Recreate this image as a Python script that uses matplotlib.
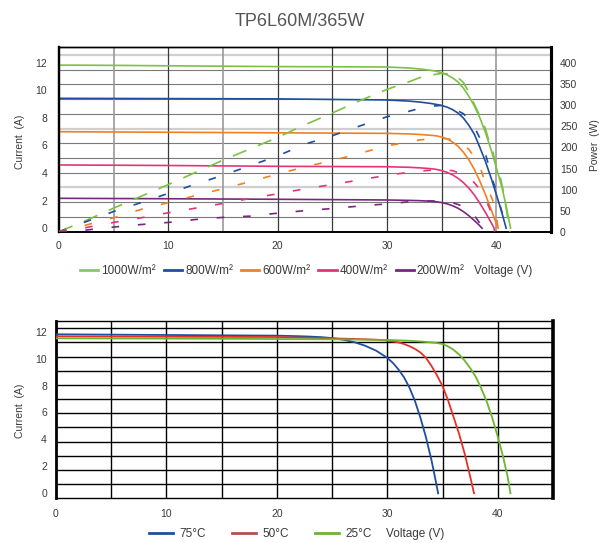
import numpy as np
import matplotlib
matplotlib.use("Agg")
import matplotlib.pyplot as plt
from matplotlib.lines import Line2D

plt.rcParams['font.family'] = ['Liberation Sans', 'DejaVu Sans']
plt.rcParams['lines.scale_dashes'] = False

# ---------------- data: irradiance I-V curves (top) ----------------
irr_labels = ["1000W/m²", "800W/m²", "600W/m²", "400W/m²", "200W/m²"]
irr_colors = ["#7cc242", "#1f4e9e", "#f08024", "#e5337a", "#76287c"]
leg_colors = ["#8cc861", "#1f4e9e", "#f08024", "#e5337a", "#76287c"]

v_1000 = [0, 5, 10, 15, 20, 25, 30, 32, 33, 34, 34.5, 35, 35.5, 36, 36.5, 37, 37.5, 38, 38.5, 39, 39.5, 40, 40.5, 40.9, 41.3]
i_1000 = [11.83, 11.81, 11.78, 11.75, 11.72, 11.71, 11.69, 11.62, 11.55, 11.45, 11.38, 11.28, 11.12, 10.9, 10.6, 10.15, 9.55, 8.85, 8.0, 6.95, 5.75, 4.4, 3.0, 1.6, 0]
v_800 = [0, 10, 20, 30, 32, 33, 34, 34.5, 35, 35.5, 36, 36.5, 37, 37.5, 38, 38.5, 39, 39.5, 40, 40.5, 40.9]
i_800 = [9.42, 9.40, 9.38, 9.30, 9.22, 9.15, 9.05, 8.98, 8.9, 8.78, 8.6, 8.35, 7.98, 7.45, 6.8, 5.85, 4.85, 3.7, 2.45, 1.15, 0]
v_600 = [0, 10, 20, 30, 32, 33, 34, 34.5, 35, 35.5, 36, 36.5, 37, 37.5, 38, 38.5, 39, 39.5, 40, 40.15]
i_600 = [7.0, 6.96, 6.92, 6.88, 6.84, 6.8, 6.74, 6.7, 6.62, 6.48, 6.25, 5.95, 5.5, 4.95, 4.25, 3.4, 2.45, 1.4, 0.35, 0]
v_400 = [0, 10, 20, 30, 32, 33, 34, 34.5, 35, 35.5, 36, 36.5, 37, 37.5, 38, 38.5, 39, 39.5, 39.8]
i_400 = [4.59, 4.55, 4.49, 4.46, 4.42, 4.38, 4.32, 4.27, 4.18, 4.05, 3.87, 3.62, 3.3, 2.9, 2.4, 1.8, 1.15, 0.45, 0]
v_200 = [0, 10, 20, 30, 32, 33, 34, 34.5, 35, 35.5, 36, 36.5, 37, 37.5, 38, 38.4, 38.7]
i_200 = [2.17, 2.14, 2.10, 2.05, 2.02, 2.0, 1.96, 1.92, 1.86, 1.77, 1.63, 1.45, 1.2, 0.9, 0.55, 0.25, 0]

# power curves (dashed, right axis)
pv_1000 = [0, 2.5, 5, 7.5, 10, 12.5, 15, 17.5, 20, 22.5, 25, 27.5, 30, 32, 33, 34, 35, 36, 36.5, 37, 37.5, 38, 38.5, 39, 39.3, 39.6, 40, 40.35, 40.65, 40.8, 41.1, 41.25]
p_1000 = [0, 27, 56, 84, 112, 141, 170, 197, 224, 254, 282, 311, 338, 356, 366, 372, 376, 374, 366, 354, 331, 302, 274, 245, 218, 198, 155, 131, 95, 71, 24, 0]
pv_800 = [0, 2.5, 5, 7.5, 10, 12.5, 15, 17.5, 20, 22.5, 25, 27.5, 30, 32, 33, 34, 35, 36, 37, 37.5, 38, 38.5, 39, 39.3, 39.5, 39.7, 40, 40.2, 40.5, 40.9]
p_800 = [0, 24, 48, 69, 91, 113, 134, 157, 180, 208, 228, 251, 273, 286, 293, 298, 300, 294, 280, 266, 248, 222, 185, 158, 139, 119, 97, 75, 48, 0]
pv_600 = [0, 2.5, 5, 7.5, 10, 12.5, 15, 17.5, 20, 22.5, 25, 27.5, 30, 32, 33, 34, 35, 36, 37, 37.5, 38, 38.5, 39.1, 39.5, 39.9, 40.2]
p_600 = [0, 16, 33, 53, 69, 86, 102, 119, 137, 154, 169, 186, 204, 213, 218, 221, 222, 219, 207, 195, 177, 155, 107, 85, 59, 0]
pv_400 = [0, 2.5, 5, 7.5, 10, 12.5, 15, 17.5, 20, 22.5, 25, 27.5, 30, 32, 33, 34, 35, 36, 37, 37.5, 38, 38.5, 39, 39.5, 39.85]
p_400 = [0, 10, 22, 33, 45, 56, 67, 79, 90, 102, 112, 123, 134, 141, 144, 146, 147, 145, 136, 128, 116, 100, 78, 48, 0]
pv_200 = [0, 2.5, 5, 7.5, 10, 12.5, 15, 17.5, 20, 22.5, 25, 27.5, 30, 32, 33, 34, 35, 36, 37, 37.5, 38, 38.5, 38.75]
p_200 = [0, 4, 11, 17, 22, 29, 34, 37, 44, 50, 55, 61, 66, 71, 72, 73, 73, 69, 60, 51, 38, 20, 0]

# ---------------- data: temperature I-V curves (bottom) ----------------
temp_labels = ["75°C", "50°C", "25°C"]
temp_colors = ["#1f4e9e", "#e8302a", "#6cb52f"]
temp_leg_colors = ["#1f4e9e", "#b5514d", "#6cb52f"]
v_75 = [0, 10, 20, 22, 23, 24, 25, 26, 27, 28, 29, 30, 30.5, 31, 31.5, 32, 32.5, 33, 33.5, 34, 34.3, 34.6]
i_75 = [11.8, 11.75, 11.7, 11.66, 11.63, 11.59, 11.52, 11.4, 11.22, 10.95, 10.58, 10.05, 9.68, 9.2, 8.62, 7.85, 6.85, 5.6, 4.15, 2.45, 1.25, 0]
v_50 = [0, 10, 20, 25, 28, 29, 30, 31, 31.5, 32, 32.5, 33, 33.5, 34, 34.5, 35, 35.5, 36, 36.5, 37, 37.4, 37.85]
i_50 = [11.65, 11.62, 11.6, 11.5, 11.43, 11.4, 11.34, 11.2, 11.08, 10.92, 10.72, 10.45, 10.05, 9.45, 8.75, 7.95, 6.9, 5.65, 4.4, 2.95, 1.6, 0]
v_25 = [0, 10, 20, 25, 30, 32, 33, 34, 34.5, 35, 35.5, 36, 36.5, 37, 37.5, 38, 38.5, 39, 39.5, 40, 40.5, 40.9, 41.15]
i_25 = [11.5, 11.48, 11.45, 11.43, 11.38, 11.32, 11.27, 11.2, 11.15, 11.08, 10.9, 10.65, 10.3, 9.85, 9.3, 8.65, 7.8, 6.8, 5.6, 4.2, 2.65, 1.2, 0]

x_ticks = [0, 10, 20, 30, 40]
i_ticks = [0, 2, 4, 6, 8, 10, 12]
p_ticks = [0, 50, 100, 150, 200, 250, 300, 350, 400]

TXT = "#3a3a3a"
W, H = 612, 543
fig = plt.figure(figsize=(W / 100, H / 100), dpi=100)


def box(l, t, r, b):
    return [l / W, 1 - b / H, (r - l) / W, (b - t) / H]


# ================= top chart =================
ax = fig.add_axes(box(59, 47.3, 551, 231.7))
ax.set_xlim(0, 45)
i_lo, i_hi = -0.25, 13.12
ax.set_ylim(i_lo, i_hi)
ax2 = ax.twinx()
ax2.set_ylim(0, 438)

# grid
gstep = (i_hi - i_lo) * 35 / 438
for k in range(1, 13):
    light = k in (3, 7, 12)
    ax.axhline(i_lo + k * gstep, color="#cfcfcf" if light else "#7a7a7a",
               lw=1.6 if light else 0.8, zorder=0.5)
for xv in range(5, 45, 5):
    light = xv in (5, 15, 40)
    ax.axvline(xv, color="#9a9a9a" if light else "#3a3a3a",
               lw=1.2 if light else 0.9, zorder=0.6)

iv = [(v_1000, i_1000), (v_800, i_800), (v_600, i_600), (v_400, i_400), (v_200, i_200)]
pw = [(pv_1000, p_1000), (pv_800, p_800), (pv_600, p_600), (pv_400, p_400), (pv_200, p_200)]
for (v, i), c in zip(iv, irr_colors):
    ax.plot(v, i, color=c, lw=1.2, zorder=3, solid_joinstyle="round")
for n, ((v, p), c) in enumerate(zip(pw, irr_colors)):
    dash = (10.5, 9) if n == 0 else (5.5, 13.5)
    ln, = ax2.plot(v, p, color=c, lw=1.2, zorder=3)
    ln.set_dashes(dash)

ax.set_xticks(x_ticks)
ax.set_yticks(i_ticks)
ax2.set_yticks(p_ticks)
ax.tick_params(axis="both", length=0, labelsize=7.5, labelcolor=TXT)
ax.tick_params(axis="x", pad=6.5)
ax.tick_params(axis="y", pad=8.5)
ax2.tick_params(axis="y", length=0, labelsize=7.5, labelcolor=TXT, pad=6.5)
for a in (ax, ax2):
    a.spines["left"].set_linewidth(1.6)
    a.spines["right"].set_linewidth(2.2)
    a.spines["top"].set_linewidth(1.0)
    a.spines["bottom"].set_linewidth(1.2)

fig.text(300 / W, 1 - 21 / H, "TP6L60M/365W", ha="center", va="center",
         fontsize=13, color="#555555")
fig.text(20 / W, 1 - 142 / H, "Current  (A)", rotation=90, ha="center", va="center",
         fontsize=7.5, color=TXT)
fig.text(595 / W, 1 - 145 / H, "Power  (W)", rotation=90, ha="center", va="center",
         fontsize=7.5, color=TXT)

handles = [Line2D([], [], color=c, lw=2) for c in leg_colors]
fig.legend(handles, irr_labels, loc="center left", bbox_to_anchor=(80 / W, 1 - 271 / H),
           ncol=5, frameon=False, fontsize=8.5, handlelength=1.55, handletextpad=0.25,
           columnspacing=0.68, borderpad=0, borderaxespad=0, labelcolor=TXT)
fig.text(474 / W, 1 - 271 / H, "Voltage (V)", ha="left", va="center", fontsize=8.5, color=TXT)

# ================= bottom chart =================
bx = fig.add_axes(box(56, 320.7, 553, 498.3))
bx.set_xlim(0, 45)
b_lo, b_hi = -0.37, 12.81
bx.set_ylim(b_lo, b_hi)
bstep = (12.25 - b_lo) / 12
for k in range(1, 13):
    bx.axhline(b_lo + k * bstep, color="black", lw=1.0, zorder=0.5)
for xv in range(5, 45, 5):
    bx.axvline(xv, color="black", lw=1.0, zorder=0.6)

for (v, i), c in zip([(v_75, i_75), (v_50, i_50), (v_25, i_25)], temp_colors):
    bx.plot(v, i, color=c, lw=1.3, zorder=3, solid_joinstyle="round")

bx.set_xticks(x_ticks)
bx.set_yticks(i_ticks)
bx.tick_params(axis="both", length=0, labelsize=7.5, labelcolor=TXT)
bx.tick_params(axis="x", pad=8)
bx.tick_params(axis="y", pad=6.5)
bx.spines["left"].set_linewidth(2.0)
bx.spines["right"].set_linewidth(2.6)
bx.spines["top"].set_linewidth(1.0)
bx.spines["bottom"].set_linewidth(1.0)

fig.text(20 / W, 1 - 411 / H, "Current  (A)", rotation=90, ha="center", va="center",
         fontsize=7.5, color=TXT)
handles_t = [Line2D([], [], color=c, lw=2) for c in temp_leg_colors]
fig.legend(handles_t, temp_labels, loc="center left", bbox_to_anchor=(149 / W, 1 - 534 / H),
           ncol=3, frameon=False, fontsize=8.5, handlelength=2.03, handletextpad=0.55,
           columnspacing=2.2, borderpad=0, borderaxespad=0, labelcolor=TXT)
fig.text(386 / W, 1 - 534 / H, "Voltage (V)", ha="left", va="center", fontsize=8.5, color=TXT)

fig.savefig("out.png", dpi=100)
